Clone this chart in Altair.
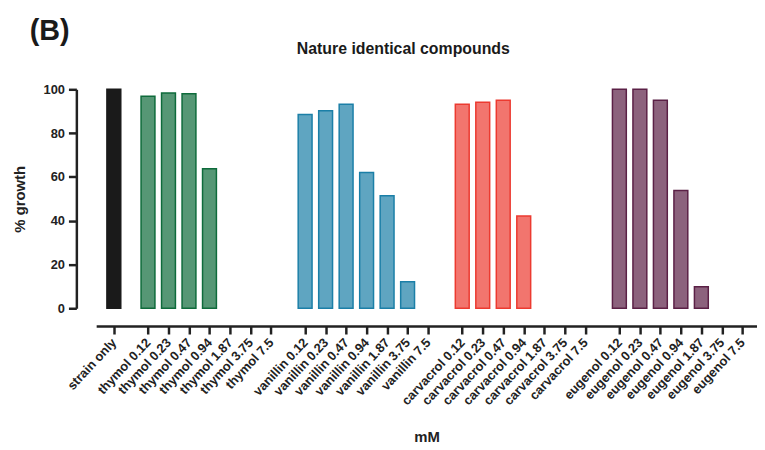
import altair as alt
import pandas as pd

categories = [
    "strain only",
    "thymol 0.12", "thymol 0.23", "thymol 0.47", "thymol 0.94", "thymol 1.87", "thymol 3.75", "thymol 7.5",
    "vanillin 0.12", "vanillin 0.23", "vanillin 0.47", "vanillin 0.94", "vanillin 1.87", "vanillin 3.75", "vanillin 7.5",
    "carvacrol 0.12", "carvacrol 0.23", "carvacrol 0.47", "carvacrol 0.94", "carvacrol 1.87", "carvacrol 3.75", "carvacrol 7.5",
    "eugenol 0.12", "eugenol 0.23", "eugenol 0.47", "eugenol 0.94", "eugenol 1.87", "eugenol 3.75", "eugenol 7.5",
]
growth = [
    100,
    96.8, 98.3, 98.0, 63.7, 0, 0, 0,
    88.5, 90.2, 93.2, 62.0, 51.4, 12.1, 0,
    93.2, 94.1, 95.0, 42.1, 0, 0, 0,
    100, 100, 95.0, 53.8, 9.8, 0, 0,
]
compound = ["strain"] + ["thymol"] * 7 + ["vanillin"] * 7 + ["carvacrol"] * 7 + ["eugenol"] * 7

group_order = ["strain", "thymol", "vanillin", "carvacrol", "eugenol"]
group_colors = ["#1a1a1a", "#0e6b3b", "#1b7fa7", "#ec3a30", "#5b2046"]
fill_alpha = [1.0, 0.7, 0.7, 0.7, 0.7]

gap = 2 / 3
pos = [round(i + gap * group_order.index(c), 4) for i, c in enumerate(compound)]

df = pd.DataFrame({
    "category": categories,
    "growth": growth,
    "compound": compound,
    "pos": pos,
    "alpha": [fill_alpha[group_order.index(c)] for c in compound],
})

label_expr = (
    "[" + ",".join("'" + c + "'" for c in categories) + "]"
    + "[indexof([" + ",".join(str(p) for p in pos) + "], datum.value)]"
)

FONT = "Liberation Sans"

color_scale = alt.Scale(domain=group_order, range=group_colors)

bars = alt.Chart(df).transform_filter("datum.growth > 0").mark_bar(width=14, strokeWidth=1.5).encode(
    x=alt.X(
        "pos:Q",
        scale=alt.Scale(domain=[-0.62, 31.14], nice=False, zero=False),
        axis=alt.Axis(
            values=pos,
            labelExpr=label_expr,
            title="mM",
            grid=False,
            offset=18,
            domainColor="#222222",
            domainWidth=2.5,
            tickColor="#222222",
            tickWidth=2.5,
            tickSize=8,
            labelAngle=313,
            labelAlign="right",
            labelBaseline="middle",
            labelFont=FONT,
            labelFontSize=13,
            labelFontWeight="bold",
            labelColor="#222222",
            labelPadding=6,
            labelOverlap=False,
            titleFont=FONT,
            titleFontSize=15,
            titleFontWeight="bold",
            titleColor="#222222",
            titlePadding=22,
        ),
    ),
    y=alt.Y(
        "growth:Q",
        scale=alt.Scale(domain=[0, 100], nice=False),
        axis=alt.Axis(
            values=[0, 20, 40, 60, 80, 100],
            title="% growth",
            grid=False,
            offset=20,
            domainColor="#222222",
            domainWidth=2.5,
            tickColor="#222222",
            tickWidth=2.5,
            tickSize=8,
            labelFont=FONT,
            labelFontSize=13,
            labelFontWeight="bold",
            labelColor="#222222",
            labelPadding=4,
            titleFont=FONT,
            titleFontSize=15,
            titleFontWeight="bold",
            titleColor="#222222",
            titlePadding=16,
        ),
    ),
    fill=alt.Fill("compound:N", scale=color_scale, legend=None),
    stroke=alt.Stroke("compound:N", scale=color_scale, legend=None),
    fillOpacity=alt.FillOpacity("alpha:Q", scale=None),
)

panel_label = alt.Chart(pd.DataFrame({"t": ["(B)"]})).mark_text(
    font=FONT, fontSize=29, fontWeight="bold", color="#1a1a1a", align="center", baseline="middle"
).encode(text="t:N", x=alt.value(-47), y=alt.value(-59))

title_text = alt.Chart(pd.DataFrame({"t": ["Nature identical compounds"]})).mark_text(
    font=FONT, fontSize=16, fontWeight="bold", color="#1a1a1a", align="center", baseline="middle"
).encode(text="t:N", x=alt.value(310), y=alt.value(-41))

chart = alt.layer(bars, panel_label, title_text).properties(
    width=667,
    height=221,
    autosize="none",
    padding={"left": 89, "top": 80, "right": 0, "bottom": 140},
).configure_view(stroke=None)

chart.save("out.html", embed_options={"renderer": "svg", "actions": False})
